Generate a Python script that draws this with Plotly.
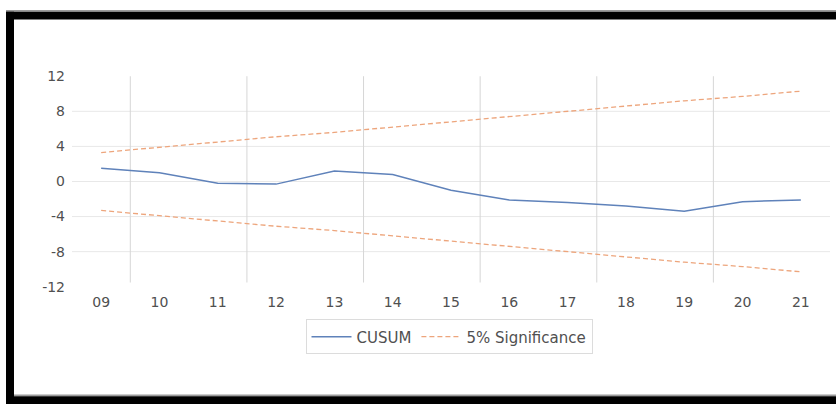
import plotly.graph_objects as go

# Years shown on the category axis
years = ["09", "10", "11", "12", "13", "14", "15", "16", "17", "18", "19", "20", "21"]

# Recursive-residual CUSUM statistic
cusum = [1.5, 1.0, -0.2, -0.3, 1.2, 0.8, -1.0, -2.1, -2.4, -2.8, -3.4, -2.3, -2.1]

# 5% significance bounds
upper = [3.3, 3.9, 4.5, 5.1, 5.6, 6.2, 6.8, 7.4, 8.0, 8.6, 9.2, 9.7, 10.3]
lower = [-3.3, -3.9, -4.5, -5.1, -5.6, -6.2, -6.8, -7.4, -8.0, -8.6, -9.2, -9.7, -10.3]

y_ticks = [-12, -8, -4, 0, 4, 8, 12]
y_tick_text = ["-12", "-8", "-4", "0", "4", "8", "12"]

W, H = 836, 412
FONT = "DejaVu Sans"
LABEL = "#505050"
BLUE = "#5F82BA"
ORANGE = "#EDA57C"

x = list(range(len(years)))

fig = go.Figure()
fig.add_trace(go.Scatter(
    x=x, y=cusum, mode="lines", name="CUSUM",
    line=dict(color=BLUE, width=1.5),
))
fig.add_trace(go.Scatter(
    x=x, y=upper, mode="lines", name="5% Significance",
    line=dict(color=ORANGE, width=1.3, dash="5px,3px"),
))
fig.add_trace(go.Scatter(
    x=x, y=lower, mode="lines", name="5% Significance", showlegend=False,
    line=dict(color=ORANGE, width=1.3, dash="5px,3px"),
))

shapes = []
# light horizontal gridlines
for v in [-8, -4, 0, 4, 8]:
    shapes.append(dict(type="line", xref="x domain", yref="y", x0=0, x1=1, y0=v, y1=v,
                       line=dict(color="#E8E8E8", width=1), layer="below"))
# vertical separators every two years
for v in [0.5, 2.5, 4.5, 6.5, 8.5, 10.5]:
    shapes.append(dict(type="line", xref="x", yref="y domain", x0=v, x1=v, y0=0.02, y1=1,
                       line=dict(color="#D6D6D6", width=1), layer="below"))

# black frame (top, left, bottom)
def px_rect(x0, y0, x1, y1, color):
    return dict(type="rect", xref="paper", yref="paper",
                x0=x0 / W, x1=x1 / W, y0=1 - y1 / H, y1=1 - y0 / H,
                fillcolor=color, line=dict(width=0), layer="above")

shapes += [
    px_rect(6, 2, W, 4, "#9A9A9A"),
    px_rect(6, 4, W, 12, "#000000"),
    px_rect(6, 4, 14, H, "#000000"),
    px_rect(14, 402, W, 404, "#9A9A9A"),
    px_rect(6, 404, W, H, "#000000"),
]

fig.update_layout(
    width=W, height=H, autosize=False,
    margin=dict(l=0, r=0, t=0, b=0),
    paper_bgcolor="white", plot_bgcolor="white",
    font=dict(family=FONT, size=14, color=LABEL),
    showlegend=True,
    legend=dict(
        orientation="h", x=449 / W, xanchor="center", y=1 - 324 / H, yanchor="top",
        bordercolor="#DCDCDC", borderwidth=1, bgcolor="white",
        font=dict(family=FONT, size=15, color=LABEL),
        itemwidth=40, tracegroupgap=0,
    ),
    xaxis=dict(
        domain=[72 / W, 830 / W], range=[-0.5, 12.5],
        tickmode="array", tickvals=x, ticktext=years,
        showgrid=False, zeroline=False, showline=False, ticks="",
        ticklabelstandoff=5, tickfont=dict(size=14, color=LABEL),
        fixedrange=True,
    ),
    yaxis=dict(
        domain=[1 - 290 / H, 1 - 71 / H], range=[-12, 12],
        tickmode="array", tickvals=y_ticks, ticktext=y_tick_text,
        showgrid=False, zeroline=False, showline=False, ticks="",
        ticklabelstandoff=6, tickfont=dict(size=14, color=LABEL),
        fixedrange=True,
    ),
    shapes=shapes,
)

fig.write_html("out.html")
